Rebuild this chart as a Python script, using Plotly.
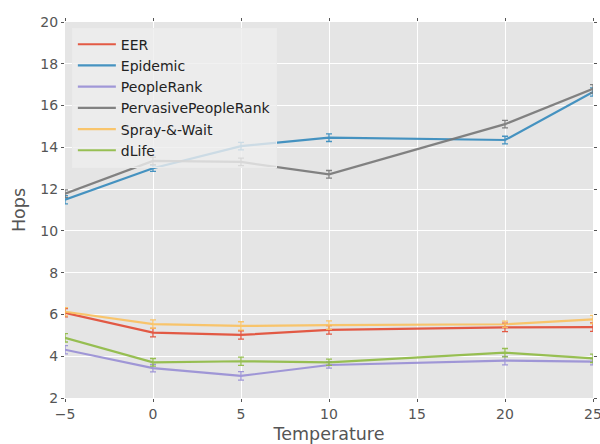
import plotly.graph_objects as go

temps = [-5, 0, 5, 10, 20, 25]
series_names = ["EER", "Epidemic", "PeopleRank", "PervasivePeopleRank", "Spray-&-Wait", "dLife"]
eer = [6.08, 5.13, 5.02, 5.26, 5.38, 5.39]
epidemic = [11.49, 13.0, 14.06, 14.46, 14.35, 16.65]
peoplerank = [4.31, 3.43, 3.06, 3.58, 3.79, 3.74]
pervasive = [11.78, 13.35, 13.3, 12.71, 15.11, 16.8]
spray = [6.13, 5.54, 5.45, 5.49, 5.53, 5.76]
dlife = [4.88, 3.71, 3.76, 3.71, 4.17, 3.90]

eer_err = [0.2, 0.2, 0.2, 0.2, 0.2, 0.2]
epidemic_err = [0.2, 0.15, 0.18, 0.18, 0.18, 0.2]
peoplerank_err = [0.2, 0.18, 0.2, 0.15, 0.2, 0.15]
pervasive_err = [0.18, 0.18, 0.18, 0.18, 0.18, 0.2]
spray_err = [0.2, 0.2, 0.2, 0.2, 0.15, 0.2]
dlife_err = [0.2, 0.18, 0.2, 0.15, 0.2, 0.2]

colors = ["#E24A33", "#348ABD", "#988ED5", "#777777", "#FBC15E", "#8EBA42"]
values = [eer, epidemic, peoplerank, pervasive, spray, dlife]
errors = [eer_err, epidemic_err, peoplerank_err, pervasive_err, spray_err, dlife_err]

fig = go.Figure()
for name, v, e, c in zip(series_names, values, errors, colors):
    fig.add_trace(go.Scatter(
        x=temps, y=v, name=name, mode="lines",
        line=dict(color=c, width=2.2),
        opacity=0.9,
        error_y=dict(type="data", array=e, visible=True, color=c, thickness=1.3, width=3),
    ))

axis_common = dict(
    showgrid=True, gridcolor="white", gridwidth=1,
    zeroline=False, showline=True, linecolor="rgba(0,0,0,0)", linewidth=1,
    ticks="outside", ticklen=3, tickcolor="#555555", tickwidth=1,
    mirror="ticks", automargin=False,
    tickfont=dict(family="DejaVu Sans", size=14, color="#555555"),
)

fig.update_layout(
    width=600, height=444,
    margin=dict(l=65, r=7, t=22, b=46),
    paper_bgcolor="white", plot_bgcolor="#E5E5E5",
    font=dict(family="DejaVu Sans", color="#555555"),
    xaxis=dict(range=[-5, 25], tickmode="array", tickvals=[-5, 0, 5, 10, 15, 20, 25],
               ticklabeloverflow="allow",
               title=dict(text="Temperature", font=dict(size=17.5, color="#555555"), standoff=14),
               **axis_common),
    yaxis=dict(range=[2, 20], tickmode="array", tickvals=[2, 4, 6, 8, 10, 12, 14, 16, 18, 20],
               ticklabeloverflow="allow",
               title=dict(text="Hops", font=dict(size=17.5, color="#555555"), standoff=10),
               **axis_common),
    legend=dict(x=0.013, y=0.985, xanchor="left", yanchor="top",
                bgcolor="rgba(238,238,238,0.8)", bordercolor="#EBEBEB", borderwidth=1,
                itemwidth=38,
                font=dict(family="DejaVu Sans", size=14, color="#222222")),
    showlegend=True,
)

fig.write_html("out.html")
